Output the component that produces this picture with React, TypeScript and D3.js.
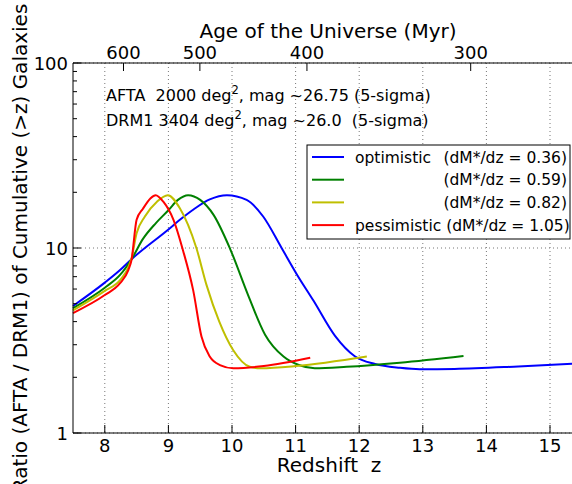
import React from "react";
import * as d3 from "d3";

const W = 572;
const H = 484;

// Redshift axis (bottom)
const zTicks = [8, 9, 10, 11, 12, 13, 14, 15];
// Age axis (top), Myr
const ageTicks = [600, 500, 400, 300];
// Ratio axis (log)
const rTicks = [1, 10, 100];

// Series: redshift z and ratio r
const zBlue = [7.5, 8.0, 8.24, 8.42, 9.0, 9.18, 9.4, 9.65, 9.92, 10.23, 10.49, 10.78, 11.02, 11.28, 11.62, 11.93, 12.25, 12.64, 12.95, 13.5, 14.5, 15.5];
const rBlue = [4.86, 6.5, 7.6, 8.7, 12.6, 14.2, 16.2, 18.3, 19.3, 18.2, 14.8, 10.0, 7.2, 5.2, 3.35, 2.6, 2.36, 2.25, 2.21, 2.22, 2.29, 2.38];

const zGreen = [7.5, 8.0, 8.24, 8.42, 8.6, 8.8, 9.0, 9.15, 9.31, 9.5, 9.71, 9.97, 10.25, 10.52, 10.81, 11.05, 11.3, 11.8, 12.64, 13.64];
const rGreen = [4.73, 6.1, 7.15, 8.7, 11.2, 13.6, 16.0, 18.2, 19.3, 18.2, 15.1, 9.9, 5.6, 3.4, 2.59, 2.33, 2.24, 2.28, 2.4, 2.61];

const zYellow = [7.5, 8.0, 8.24, 8.37, 8.42, 8.5, 8.63, 8.82, 8.99, 9.18, 9.44, 9.6, 9.8, 10.02, 10.28, 10.45, 11.0, 12.12];
const rYellow = [4.6, 5.86, 6.7, 7.86, 8.8, 12.0, 14.8, 17.8, 19.3, 16.4, 10.0, 6.3, 4.0, 2.8, 2.28, 2.24, 2.3, 2.59];

const zRed = [7.5, 8.0, 8.24, 8.37, 8.42, 8.5, 8.6, 8.72, 8.8, 8.92, 9.08, 9.23, 9.39, 9.52, 9.65, 9.81, 10.02, 10.5, 11.23];
const rRed = [4.45, 5.57, 6.45, 7.6, 8.6, 14.2, 16.3, 18.6, 19.3, 17.8, 14.2, 9.7, 5.9, 3.32, 2.59, 2.33, 2.24, 2.3, 2.55];

const seriesColors = ["#0000ff", "#008000", "#bfbf00", "#ff0000"];
const legendLeft = ["optimistic", "", "", "pessimistic (dM*/dz = 1.05)"];
const legendRight = ["(dM*/dz = 0.36)", "(dM*/dz = 0.59)", "(dM*/dz = 0.82)", ""];

// age (Myr) -> redshift, matter-dominated approximation
const AGE_K = 17000;
const ageToZ = (t: number) => Math.pow(AGE_K / t, 2 / 3) - 1;

const FONT = "DejaVu Sans, Bitstream Vera Sans, sans-serif";

export default function App() {
  const left = 73;
  const top = 63;
  const bottom = 433;
  const x = d3.scaleLinear().domain([7.5, 16]).range([left, left + 8.5 * 63.6]);
  const y = d3.scaleLog().domain([1, 100]).range([bottom, top]);

  const line = d3
    .line<[number, number]>()
    .x((d) => x(d[0]))
    .y((d) => y(d[1]))
    .curve(d3.curveMonotoneX);

  const series = [
    [zBlue, rBlue],
    [zGreen, rGreen],
    [zYellow, rYellow],
    [zRed, rRed],
  ];

  const minor: number[] = [];
  [1, 10].forEach((b) => {
    for (let k = 2; k <= 9; k++) minor.push(b * k);
  });

  const xR = W + 50;

  return (
    <svg width={W} height={H} style={{ position: "absolute", left: 0, top: 0, background: "#fff" }} fontFamily={FONT}>
      <rect x={0} y={0} width={W} height={H} fill="#fff" />
      {/* grid */}
      {zTicks.map((t) => (
        <line key={"gx" + t} x1={x(t)} x2={x(t)} y1={top} y2={bottom} stroke="#777" strokeWidth={1} strokeDasharray="1,3" />
      ))}
      {rTicks.map((t) => (
        <line key={"gy" + t} x1={left} x2={xR} y1={y(t)} y2={y(t)} stroke="#777" strokeWidth={1} strokeDasharray="1,3" />
      ))}
      {/* curves */}
      {series.map(([zs, rs], i) => (
        <path
          key={"s" + i}
          d={line(zs.map((z, j) => [z, rs[j]] as [number, number])) || ""}
          fill="none"
          stroke={seriesColors[i]}
          strokeWidth={2}
        />
      ))}
      {/* spines */}
      <line x1={left} x2={left} y1={top} y2={bottom} stroke="#000" strokeWidth={1} />
      <line x1={left} x2={xR} y1={bottom} y2={bottom} stroke="#000" strokeWidth={1} />
      <line x1={left} x2={xR} y1={top} y2={top} stroke="#000" strokeWidth={1} />
      {/* bottom ticks */}
      {zTicks.map((t) => (
        <g key={"bx" + t}>
          <line x1={x(t)} x2={x(t)} y1={bottom} y2={bottom - 8} stroke="#000" />
          <text x={x(t)} y={452} fontSize={18} textAnchor="middle">
            {t}
          </text>
        </g>
      ))}
      {/* top ticks */}
      {ageTicks.map((t) => (
        <g key={"tx" + t}>
          <line x1={x(ageToZ(t))} x2={x(ageToZ(t))} y1={top} y2={top + 8} stroke="#000" />
          <text x={x(ageToZ(t))} y={59} fontSize={18} textAnchor="middle">
            {t}
          </text>
        </g>
      ))}
      {/* left ticks */}
      {rTicks.map((t) => (
        <g key={"ly" + t}>
          <line x1={left} x2={left + 8} y1={y(t)} y2={y(t)} stroke="#000" />
          <text x={68} y={y(t) + 6.5} fontSize={18} textAnchor="end">
            {t}
          </text>
        </g>
      ))}
      {minor.map((t) => (
        <line key={"my" + t} x1={left} x2={left + 4} y1={y(t)} y2={y(t)} stroke="#000" />
      ))}
      {/* axis labels */}
      <text x={329} y={472} fontSize={20} textAnchor="middle" style={{ whiteSpace: "pre" }}>
        {"Redshift  z"}
      </text>
      <text x={328} y={38} fontSize={20} textAnchor="middle">
        Age of the Universe (Myr)
      </text>
      <text transform={`translate(27,${(top + bottom) / 2}) rotate(-90)`} fontSize={20} textAnchor="middle">
        {"Ratio (AFTA / DRM1) of Cumulative (>z) Galaxies"}
      </text>
      {/* annotation */}
      <text x={106} y={101} fontSize={16} style={{ whiteSpace: "pre" }}>
        {"AFTA  2000 deg"}
        <tspan dy={-7} fontSize={11.5}>2</tspan>
        <tspan dy={7}>{", mag ~26.75 (5-sigma)"}</tspan>
      </text>
      <text x={106} y={126} fontSize={16} style={{ whiteSpace: "pre" }}>
        {"DRM1 3404 deg"}
        <tspan dy={-7} fontSize={11.5}>2</tspan>
        <tspan dy={7}>{", mag ~26.0  (5-sigma)"}</tspan>
      </text>
      {/* legend */}
      <rect x={307} y={145} width={263} height={94} fill="#fff" stroke="#000" strokeWidth={1} />
      {seriesColors.map((c, i) => {
        const cy = 157 + i * 22.7;
        return (
          <g key={"lg" + i}>
            <line x1={312} x2={344} y1={cy} y2={cy} stroke={c} strokeWidth={2} />
            {legendLeft[i] && (
              <text x={355} y={cy + 5.5} fontSize={15.5}>
                {legendLeft[i]}
              </text>
            )}
            {legendRight[i] && (
              <text x={567} y={cy + 5.5} fontSize={15.5} textAnchor="end">
                {legendRight[i]}
              </text>
            )}
          </g>
        );
      })}
    </svg>
  );
}
